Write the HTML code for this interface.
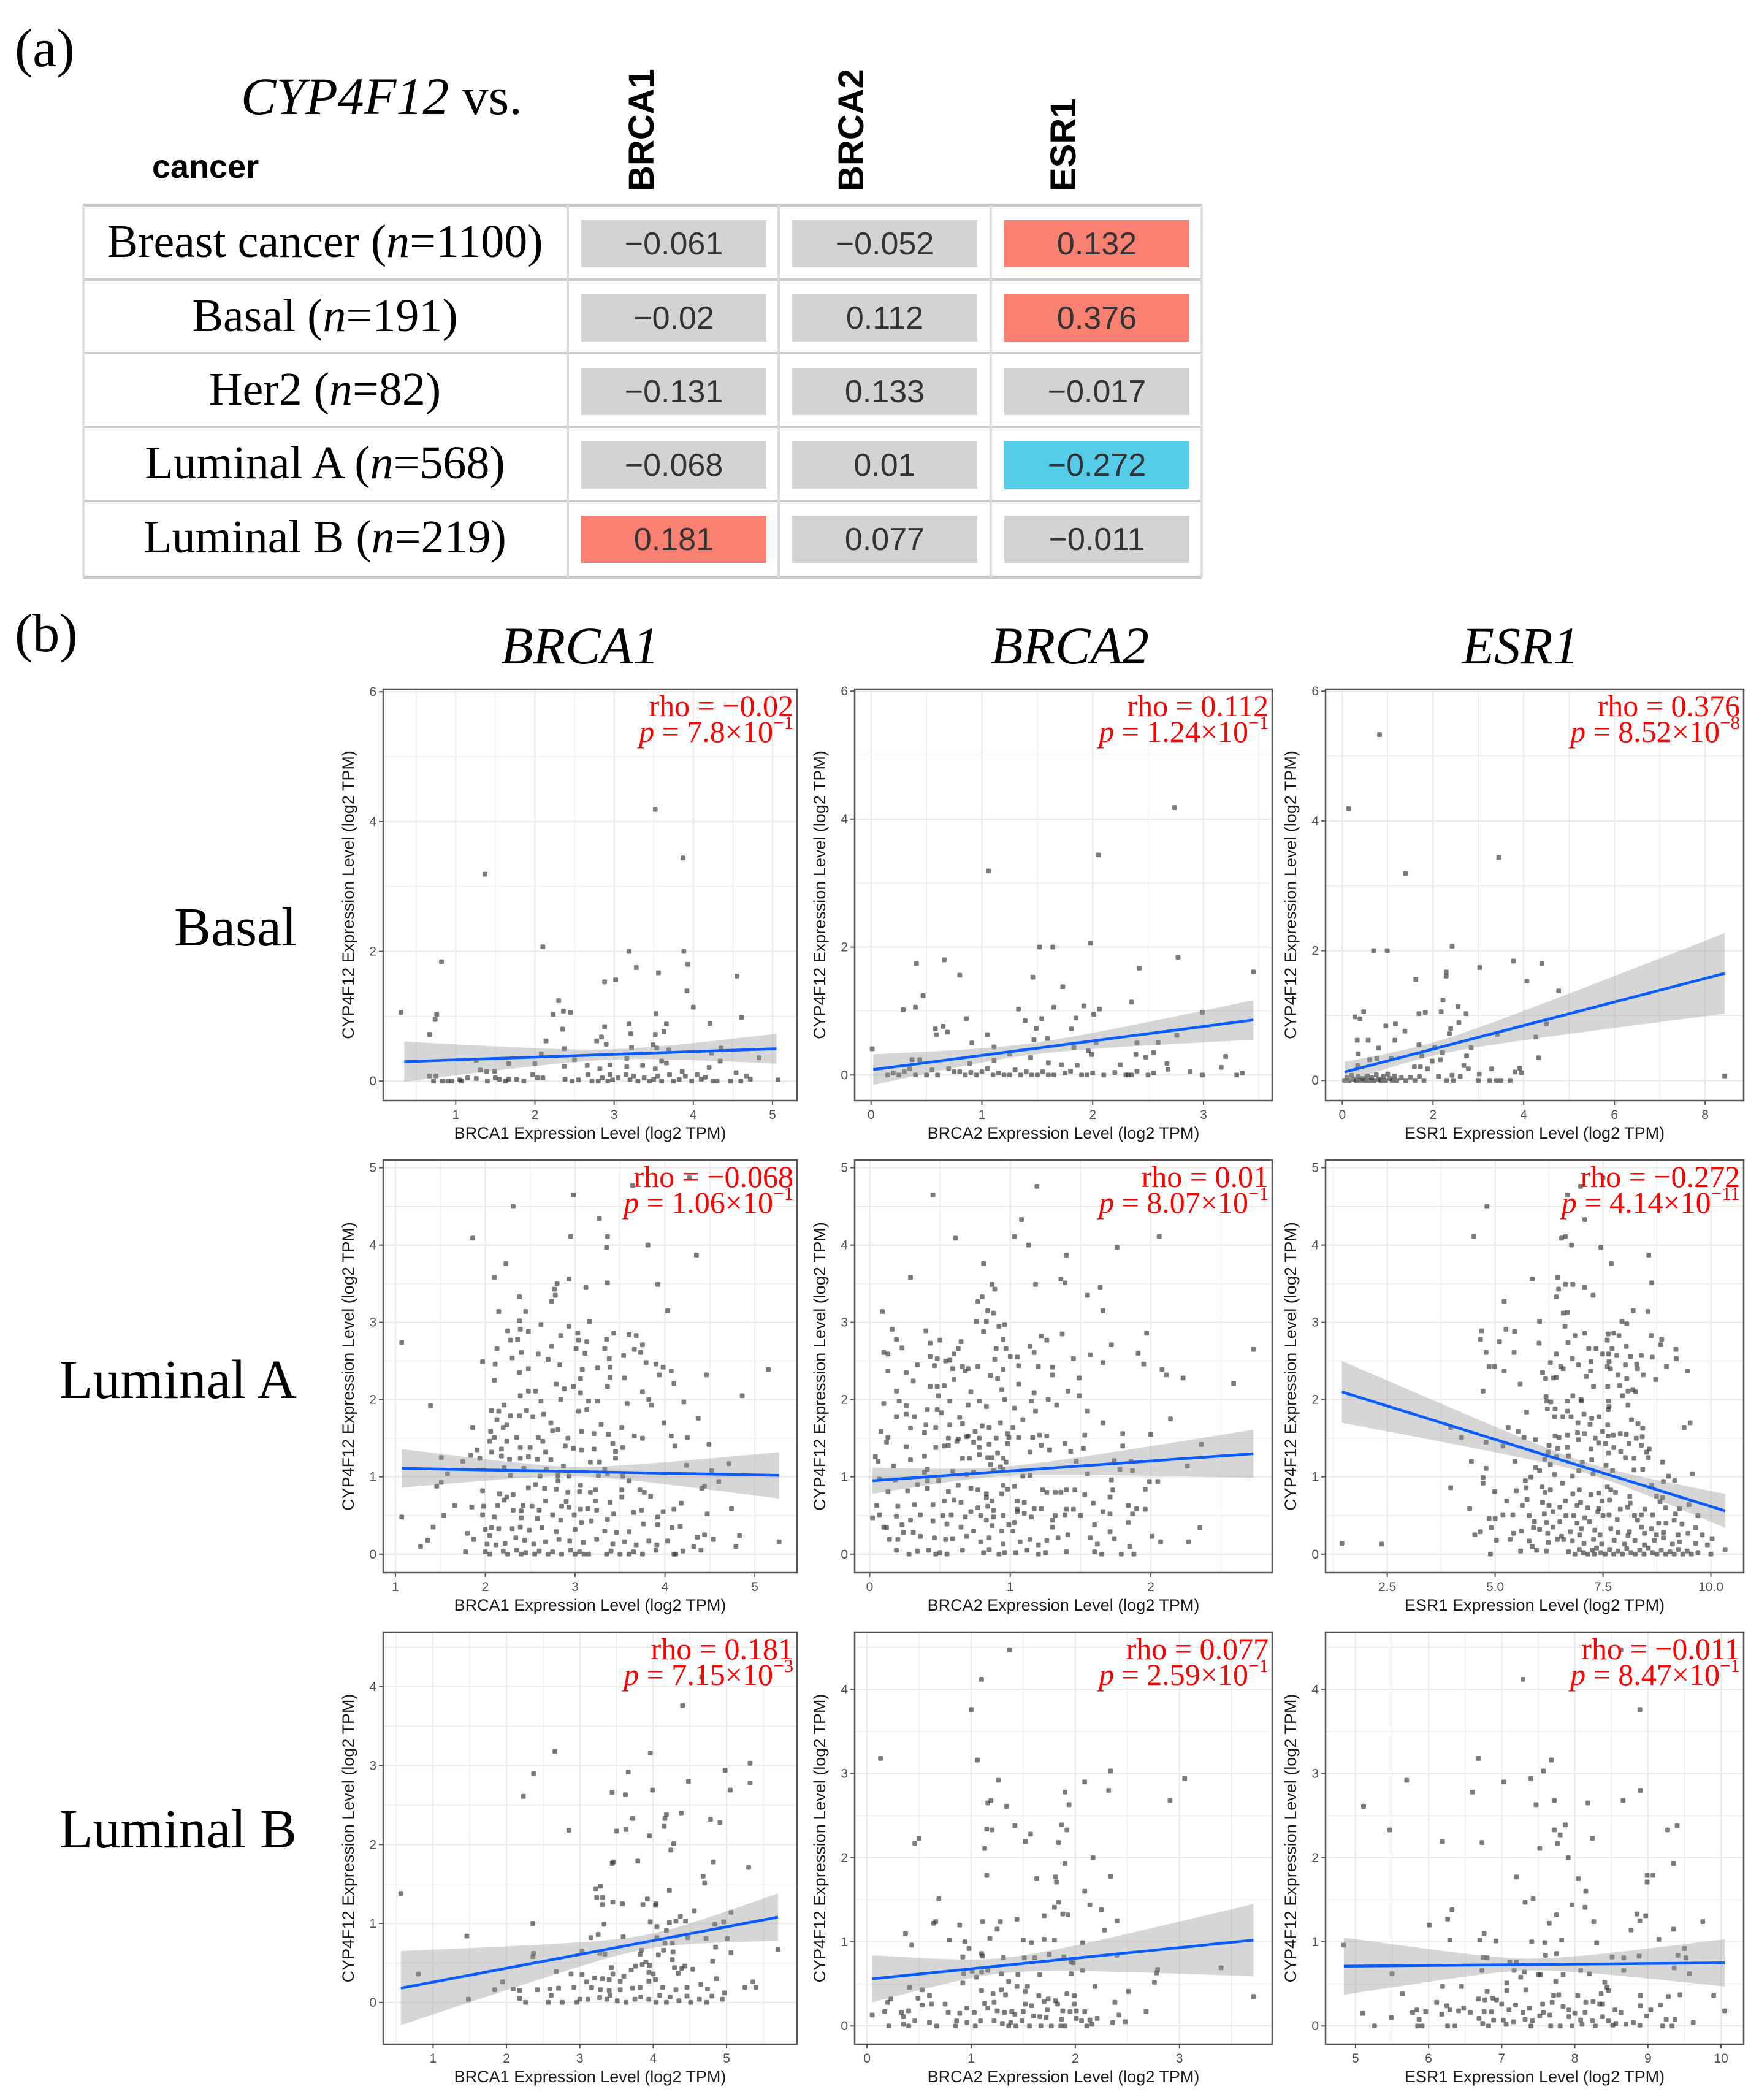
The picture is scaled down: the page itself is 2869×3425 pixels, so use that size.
<!DOCTYPE html>
<html><head><meta charset="utf-8">
<style>
html,body{margin:0;padding:0;background:#fff;}
svg{display:block;}
.serif{font-family:"Liberation Serif",serif;}
.sans{font-family:"Liberation Sans",sans-serif;}
</style></head>
<body>
<svg id="fig" xmlns="http://www.w3.org/2000/svg" width="2869" height="3425" viewBox="0 0 2869 3425">
<rect x="0" y="0" width="2869" height="3425" fill="#fff"/>
<g>
<text class="serif" x="24" y="108" font-size="88">(a)</text>
<text class="serif" x="393" y="186" font-size="86"><tspan font-style="italic">CYP4F12</tspan> vs.</text>
<text class="sans" x="248" y="290" font-size="54" font-weight="bold">cancer</text>
<text class="sans" font-size="58" font-weight="bold" transform="translate(1066,312) rotate(-90)">BRCA1</text>
<text class="sans" font-size="58" font-weight="bold" transform="translate(1408,312) rotate(-90)">BRCA2</text>
<text class="sans" font-size="58" font-weight="bold" transform="translate(1754,312) rotate(-90)">ESR1</text>
<g id="table"></g>
</g>
<text class="serif" x="24" y="1062" font-size="88">(b)</text>
<text class="serif" x="946" y="1082" font-size="86" font-style="italic" text-anchor="middle">BRCA1</text>
<text class="serif" x="1745" y="1082" font-size="86" font-style="italic" text-anchor="middle">BRCA2</text>
<text class="serif" x="2480" y="1082" font-size="86" font-style="italic" text-anchor="middle">ESR1</text>
<text class="serif" x="484" y="1542" font-size="90" text-anchor="end">Basal</text>
<text class="serif" x="484" y="2280" font-size="90" text-anchor="end">Luminal A</text>
<text class="serif" x="484" y="3013" font-size="90" text-anchor="end">Luminal B</text>
<g id="plots"></g>
</svg>
<script>
const tableRows = ["Breast cancer", "Basal", "Her2", "Luminal A", "Luminal B"];
const tableN = ["1100", "191", "82", "568", "219"];
const tableGenes = ["BRCA1", "BRCA2", "ESR1"];
const tableRho = [
  ["\u22120.061", "\u22120.052", "0.132"],
  ["\u22120.02", "0.112", "0.376"],
  ["\u22120.131", "0.133", "\u22120.017"],
  ["\u22120.068", "0.01", "\u22120.272"],
  ["0.181", "0.077", "\u22120.011"]
];
const tableSig = [
  ["n","n","pos"],["n","n","pos"],["n","n","n"],["n","n","neg"],["pos","n","n"]
];

const basalBrca1Pts = [[3.52,4.19],[3.87,3.44],[1.37,3.19],[2.1,2.07],[3.19,2.0],[3.88,2.0],[0.82,1.84],[3.93,1.8],[3.28,1.75],[3.56,1.67],[3.02,1.56],[2.88,1.53],[4.55,1.62],[3.92,1.39],[2.3,1.24],[4.0,1.14],[0.31,1.06],[0.76,1.03],[0.74,0.95],[2.36,1.08],[2.45,1.06],[2.23,1.03],[3.53,1.04],[4.61,0.98],[3.19,0.88],[3.66,0.88],[4.21,0.89],[2.88,0.84],[2.35,0.8],[0.67,0.72],[3.21,0.73],[3.52,0.72],[3.63,0.76],[2.14,0.62],[2.84,0.68],[2.78,0.62],[2.9,0.57],[3.22,0.52],[3.49,0.56],[3.54,0.51],[3.69,0.48],[4.35,0.51],[2.37,0.5],[2.08,0.42],[4.23,0.43],[3.16,0.35],[3.36,0.24],[2.5,0.33],[3.6,0.31],[3.66,0.28],[4.34,0.31],[4.83,0.36],[1.26,0.32],[1.67,0.27],[2.0,0.27],[2.37,0.23],[2.66,0.24],[2.82,0.19],[2.95,0.25],[3.16,0.22],[4.2,0.21],[1.31,0.17],[1.39,0.15],[1.49,0.15],[3.52,0.19],[3.86,0.15],[4.54,0.13],[0.67,0.08],[0.72,0.0],[0.75,0.08],[0.83,0.0],[0.9,0.0],[0.95,0.0],[1.05,0.02],[1.07,0.0],[1.15,0.05],[1.26,0.04],[1.4,0.0],[1.5,0.05],[1.55,0.03],[1.63,0.0],[1.67,0.03],[1.77,0.03],[1.86,0.0],[1.97,0.1],[2.03,0.05],[2.1,0.05],[2.38,0.03],[2.47,0.0],[2.55,0.02],[2.67,0.1],[2.72,0.0],[2.8,0.0],[2.85,0.05],[2.92,0.0],[2.95,0.1],[2.98,0.02],[3.05,0.05],[3.15,0.1],[3.2,0.02],[3.25,0.08],[3.3,0.0],[3.38,0.05],[3.45,0.0],[3.5,0.03],[3.55,0.08],[3.6,0.0],[3.7,0.1],[3.75,0.0],[3.82,0.03],[3.9,0.08],[3.98,0.0],[4.05,0.1],[4.1,0.03],[4.15,0.06],[4.25,0.0],[4.3,0.0],[4.47,0.0],[4.6,0.0],[4.67,0.08],[4.72,0.03],[5.07,0.02]];
const basalBrca2Pts = [[2.74,4.18],[2.05,3.44],[1.06,3.19],[1.98,2.06],[1.52,2.0],[1.64,2.0],[0.66,1.8],[0.41,1.74],[2.77,1.84],[2.42,1.67],[3.45,1.61],[0.8,1.56],[1.46,1.53],[1.73,1.38],[0.47,1.24],[0.29,1.02],[0.4,1.06],[1.33,1.03],[1.65,1.06],[1.92,1.08],[2.06,1.03],[2.35,1.14],[2.01,0.95],[2.99,0.98],[0.86,0.88],[1.39,0.85],[1.54,0.88],[1.85,0.89],[0.58,0.72],[0.65,0.76],[0.59,0.63],[0.69,0.67],[1.05,0.63],[1.49,0.73],[1.81,0.72],[2.76,0.62],[0.91,0.5],[1.47,0.55],[1.59,0.57],[2.4,0.5],[2.59,0.51],[0.01,0.41],[1.11,0.44],[1.83,0.43],[1.96,0.38],[2.03,0.5],[1.25,0.33],[1.99,0.32],[2.39,0.32],[2.55,0.35],[2.48,0.28],[3.2,0.29],[0.37,0.24],[0.44,0.24],[1.11,0.23],[1.44,0.27],[0.89,0.18],[1.6,0.19],[1.72,0.16],[1.86,0.15],[2.67,0.18],[2.25,0.16],[3.16,0.12],[2.68,0.09],[2.88,0.05],[0.15,0.0],[0.2,0.03],[0.25,0.0],[0.3,0.05],[0.35,0.1],[0.4,0.0],[0.5,0.0],[0.55,0.08],[0.6,0.0],[0.7,0.1],[0.75,0.05],[0.8,0.05],[0.85,0.0],[0.9,0.04],[0.95,0.0],[1.0,0.05],[1.05,0.1],[1.1,0.0],[1.15,0.03],[1.2,0.0],[1.25,0.0],[1.3,0.08],[1.35,0.0],[1.4,0.05],[1.45,0.0],[1.5,0.0],[1.55,0.05],[1.6,0.0],[1.65,0.0],[1.75,0.03],[1.8,0.06],[1.9,0.0],[1.95,0.0],[2.0,0.03],[2.1,0.0],[2.2,0.04],[2.3,0.0],[2.32,0.0],[2.35,0.0],[2.4,0.06],[2.5,0.0],[2.55,0.03],[2.99,0.0],[3.3,0.0],[3.35,0.03]];
const basalEsr1Pts = [[0.82,5.33],[0.14,4.19],[3.45,3.44],[1.39,3.19],[2.42,2.07],[0.69,2.0],[0.99,2.0],[3.77,1.84],[4.4,1.8],[3.03,1.74],[2.29,1.67],[2.29,1.61],[1.62,1.56],[4.07,1.53],[4.77,1.38],[2.22,1.24],[2.55,1.14],[0.47,1.06],[0.28,0.98],[0.39,0.95],[1.69,1.03],[1.83,1.05],[2.18,1.06],[2.73,1.03],[0.96,0.84],[1.17,0.87],[1.38,0.76],[2.39,0.8],[2.57,0.89],[2.36,0.72],[4.5,0.87],[3.42,0.71],[4.27,0.67],[0.33,0.62],[0.57,0.62],[1.16,0.62],[0.8,0.5],[1.69,0.55],[2.04,0.51],[2.84,0.51],[0.35,0.41],[2.21,0.43],[1.75,0.38],[2.74,0.38],[4.33,0.35],[0.6,0.32],[0.76,0.34],[1.08,0.34],[2.16,0.32],[1.98,0.3],[0.34,0.23],[1.59,0.21],[1.72,0.21],[2.68,0.23],[1.88,0.18],[2.78,0.18],[3.29,0.18],[3.91,0.19],[3.81,0.13],[3.95,0.12],[8.43,0.07],[2.12,0.06],[2.6,0.06],[2.42,0.08],[3.02,0.1],[0.05,0.0],[0.1,0.05],[0.15,0.0],[0.2,0.08],[0.25,0.02],[0.3,0.0],[0.35,0.06],[0.4,0.0],[0.45,0.03],[0.5,0.0],[0.55,0.07],[0.6,0.0],[0.65,0.04],[0.7,0.0],[0.75,0.09],[0.8,0.02],[0.85,0.0],[0.9,0.06],[0.95,0.0],[1.0,0.1],[1.05,0.03],[1.1,0.0],[1.15,0.07],[1.2,0.0],[1.3,0.04],[1.4,0.0],[1.5,0.05],[1.6,0.0],[1.7,0.06],[1.8,0.0],[2.3,0.0],[2.45,0.0],[3.0,0.0],[3.25,0.0],[3.4,0.0],[3.5,0.0],[3.7,0.0]];
const lumABrca1Pts = [[3.64,4.77],[2.98,4.65],[2.31,4.5],[4.27,4.87],[3.27,4.34],[1.86,4.09],[2.95,4.11],[3.36,4.11],[3.35,3.97],[3.81,4.0],[4.35,3.87],[2.23,3.76],[2.1,3.58],[2.93,3.56],[3.36,3.51],[3.92,3.49],[3.12,3.45],[2.8,3.5],[2.77,3.43],[2.78,3.35],[2.74,3.27],[2.38,3.33],[2.15,3.14],[2.45,3.14],[4.03,3.15],[2.38,3.02],[3.16,3.01],[2.62,2.97],[2.25,2.89],[2.39,2.91],[2.48,2.88],[2.93,2.95],[2.84,2.83],[3.03,2.86],[3.43,2.86],[3.6,2.84],[3.68,2.83],[1.07,2.74],[2.28,2.77],[2.36,2.78],[3.35,2.78],[3.04,2.77],[2.74,2.69],[2.13,2.66],[3.01,2.66],[3.33,2.66],[3.13,2.75],[3.66,2.65],[3.75,2.71],[2.3,2.54],[2.4,2.61],[2.59,2.59],[2.7,2.52],[3.11,2.6],[3.38,2.53],[3.54,2.57],[3.73,2.61],[1.97,2.49],[2.11,2.46],[2.83,2.45],[3.25,2.41],[3.79,2.48],[3.9,2.46],[3.98,2.42],[5.15,2.39],[2.48,2.4],[3.08,2.39],[3.39,2.42],[2.1,2.25],[2.38,2.35],[3.94,2.32],[4.07,2.37],[4.46,2.32],[2.79,2.2],[3.06,2.27],[3.39,2.29],[3.55,2.28],[4.1,2.21],[2.48,2.11],[2.56,2.11],[2.88,2.14],[2.98,2.17],[3.06,2.09],[3.36,2.17],[3.75,2.1],[4.86,2.05],[2.39,2.05],[2.62,1.98],[2.84,2.0],[3.15,1.98],[3.25,1.98],[3.82,2.0],[4.21,1.97],[1.39,1.92],[2.21,1.93],[2.07,1.86],[2.15,1.85],[3.58,1.95],[3.85,1.93],[2.28,1.79],[2.38,1.79],[2.46,1.86],[2.53,1.78],[2.65,1.81],[3.04,1.85],[3.13,1.87],[2.13,1.74],[4.37,1.76],[1.86,1.64],[2.73,1.7],[3.29,1.68],[3.99,1.7],[2.2,1.64],[2.24,1.67],[2.06,1.59],[2.75,1.6],[2.81,1.61],[3.52,1.64],[3.07,1.59],[3.21,1.56],[3.37,1.55],[3.66,1.53],[3.75,1.5],[4.07,1.53],[4.25,1.51],[2.1,1.51],[2.35,1.51],[2.59,1.51],[2.92,1.5],[2.05,1.46],[2.24,1.46],[2.64,1.46],[3.42,1.43],[4.11,1.4],[4.49,1.42],[2.39,1.38],[2.5,1.38],[2.89,1.4],[2.18,1.36],[2.98,1.37],[3.07,1.35],[3.21,1.36],[3.53,1.38],[1.91,1.35],[1.84,1.28],[2.07,1.32],[2.67,1.32],[3.45,1.33],[1.94,1.24],[2.18,1.27],[2.27,1.23],[2.39,1.24],[2.48,1.26],[2.58,1.23],[2.73,1.22],[3.17,1.19],[3.27,1.19],[3.45,1.24],[4.71,1.17],[1.51,1.25],[1.75,1.2],[4.24,1.15],[2.21,1.12],[2.43,1.11],[2.68,1.1],[2.87,1.14],[3.33,1.1],[4.52,1.08],[1.58,1.04],[2.28,1.02],[2.61,1.01],[2.81,1.02],[2.93,1.01],[3.26,1.02],[3.36,1.04],[3.53,1.01],[2.81,0.95],[3.06,0.89],[3.6,0.95],[4.6,0.94],[1.51,0.93],[1.46,0.88],[2.48,0.86],[2.56,0.9],[2.66,0.85],[2.79,0.84],[2.92,0.8],[3.05,0.81],[3.17,0.8],[3.23,0.83],[3.52,0.83],[1.97,0.82],[3.72,0.83],[3.77,0.8],[3.84,0.75],[4.41,0.85],[4.44,0.88],[2.16,0.78],[2.24,0.74],[2.31,0.77],[2.21,0.7],[3.52,0.74],[2.67,0.69],[2.9,0.68],[3.23,0.69],[3.39,0.67],[4.18,0.66],[1.66,0.63],[1.85,0.61],[1.98,0.62],[2.14,0.63],[2.42,0.63],[2.52,0.62],[2.85,0.62],[2.93,0.61],[3.06,0.58],[3.14,0.59],[4.74,0.59],[2.31,0.57],[2.4,0.56],[2.6,0.57],[2.75,0.51],[2.99,0.51],[3.24,0.57],[3.43,0.52],[3.65,0.54],[3.74,0.57],[3.98,0.55],[4.1,0.58],[1.54,0.5],[1.97,0.51],[4.47,0.52],[1.07,0.48],[2.1,0.48],[2.4,0.47],[2.58,0.46],[2.84,0.44],[3.07,0.41],[3.18,0.43],[3.36,0.45],[3.92,0.48],[1.42,0.35],[2.0,0.32],[2.07,0.34],[2.15,0.33],[2.3,0.33],[2.39,0.35],[2.49,0.31],[2.63,0.34],[2.79,0.29],[3.0,0.32],[3.33,0.3],[3.46,0.28],[3.6,0.29],[3.76,0.39],[3.92,0.38],[4.08,0.34],[4.17,0.36],[4.36,0.22],[4.44,0.25],[4.83,0.24],[5.27,0.16],[1.8,0.27],[1.87,0.19],[1.36,0.18],[1.28,0.1],[1.78,0.03],[2.02,0.13],[2.05,0.24],[2.12,0.12],[2.22,0.14],[2.34,0.21],[2.44,0.18],[2.54,0.13],[2.67,0.16],[2.82,0.19],[2.94,0.17],[3.09,0.15],[3.24,0.19],[3.42,0.13],[3.55,0.16],[3.68,0.12],[3.82,0.17],[3.91,0.12],[4.03,0.17],[4.32,0.1],[4.79,0.1],[4.54,0.19],[2.0,0.03],[2.05,0.0],[2.2,0.04],[2.25,0.0],[2.35,0.05],[2.4,0.0],[2.45,0.02],[2.55,0.0],[2.6,0.04],[2.7,0.0],[2.75,0.03],[2.85,0.0],[2.95,0.05],[3.0,0.0],[3.05,0.03],[3.1,0.0],[3.15,0.0],[3.35,0.0],[3.4,0.04],[3.5,0.0],[3.6,0.0],[3.65,0.03],[3.75,0.0],[3.9,0.05],[4.1,0.0],[4.12,0.0],[4.2,0.04],[4.4,0.05]];
const lumABrca2Pts = [[1.19,4.76],[0.45,4.65],[1.08,4.33],[0.61,4.09],[1.03,4.11],[1.13,4.0],[2.06,4.11],[1.76,3.97],[1.4,3.87],[0.81,3.76],[0.29,3.58],[1.18,3.49],[1.36,3.56],[1.39,3.51],[0.87,3.49],[0.89,3.43],[1.64,3.45],[1.55,3.35],[0.8,3.33],[0.77,3.27],[1.66,3.15],[0.09,3.14],[0.84,3.15],[0.88,3.12],[0.76,3.01],[0.83,3.01],[0.92,2.95],[0.96,2.97],[0.81,2.88],[0.16,2.91],[0.4,2.89],[1.37,2.85],[1.97,2.86],[0.65,2.75],[1.22,2.82],[1.26,2.77],[0.19,2.78],[0.43,2.73],[0.5,2.77],[0.95,2.78],[0.23,2.67],[0.63,2.66],[1.14,2.69],[0.9,2.66],[0.97,2.66],[1.72,2.71],[2.73,2.65],[0.1,2.61],[0.13,2.59],[0.43,2.56],[0.48,2.53],[0.54,2.5],[0.57,2.51],[0.6,2.59],[0.89,2.52],[1.0,2.56],[1.05,2.55],[1.17,2.61],[1.45,2.53],[1.57,2.58],[1.91,2.6],[0.34,2.45],[0.46,2.44],[0.66,2.43],[0.7,2.4],[0.77,2.43],[0.95,2.39],[1.06,2.44],[1.2,2.43],[1.3,2.42],[1.66,2.48],[1.95,2.46],[0.13,2.37],[0.26,2.35],[0.59,2.4],[0.68,2.37],[0.86,2.31],[0.91,2.27],[1.3,2.32],[1.49,2.28],[2.08,2.39],[2.11,2.32],[2.23,2.28],[2.59,2.21],[0.31,2.24],[0.6,2.26],[1.06,2.2],[0.19,2.11],[0.43,2.17],[0.48,2.17],[0.53,2.18],[0.72,2.1],[0.94,2.13],[1.17,2.09],[1.41,2.11],[1.49,2.05],[0.49,2.05],[0.1,1.95],[0.21,1.98],[0.57,1.98],[0.78,1.98],[0.96,2.0],[1.15,1.98],[1.27,2.0],[0.26,1.92],[0.7,1.93],[0.83,1.91],[1.03,1.89],[1.33,1.93],[0.19,1.78],[0.26,1.81],[0.32,1.78],[0.41,1.87],[0.48,1.87],[0.51,1.83],[0.64,1.77],[1.18,1.85],[1.55,1.85],[2.14,1.75],[0.93,1.7],[1.09,1.74],[1.66,1.7],[0.08,1.59],[0.29,1.63],[0.4,1.67],[0.47,1.64],[0.57,1.67],[0.66,1.69],[0.75,1.59],[0.8,1.66],[0.85,1.64],[0.98,1.56],[1.02,1.64],[0.39,1.57],[0.13,1.51],[0.56,1.5],[0.63,1.49],[0.7,1.53],[0.78,1.5],[0.9,1.5],[0.99,1.51],[1.06,1.51],[1.16,1.51],[1.21,1.54],[1.26,1.53],[1.53,1.54],[1.8,1.56],[2.0,1.55],[0.12,1.45],[0.26,1.39],[0.47,1.38],[0.53,1.4],[0.56,1.41],[0.74,1.45],[0.62,1.46],[0.69,1.52],[0.78,1.38],[0.85,1.42],[0.98,1.43],[1.22,1.41],[1.39,1.43],[1.52,1.37],[1.8,1.4],[2.36,1.42],[1.14,1.32],[1.28,1.35],[1.43,1.33],[0.04,1.26],[0.06,1.2],[0.29,1.22],[0.39,1.27],[0.41,1.1],[0.66,1.24],[0.71,1.24],[0.78,1.29],[0.84,1.25],[0.86,1.16],[0.87,1.25],[0.91,1.31],[0.95,1.24],[0.97,1.19],[1.47,1.2],[1.74,1.21],[1.86,1.2],[0.17,1.14],[0.39,1.06],[0.59,1.07],[0.69,1.03],[0.74,1.06],[0.88,1.08],[0.93,1.13],[0.95,1.1],[1.09,1.01],[1.14,1.02],[1.55,1.04],[1.78,1.1],[1.87,1.08],[2.26,1.14],[0.07,0.97],[0.18,0.96],[0.34,0.9],[0.41,0.95],[0.49,0.95],[0.63,0.89],[0.95,0.89],[1.03,0.88],[1.72,0.96],[1.99,0.94],[2.05,0.94],[0.13,0.81],[0.27,0.82],[0.41,0.85],[0.56,0.81],[0.72,0.85],[0.77,0.83],[0.83,0.78],[0.94,0.78],[0.98,0.84],[1.23,0.83],[1.26,0.8],[1.32,0.8],[1.36,0.8],[1.4,0.83],[1.46,0.83],[1.53,0.77],[1.73,0.83],[1.71,0.74],[1.96,0.84],[0.83,0.73],[0.87,0.69],[1.05,0.69],[1.1,0.67],[0.65,0.67],[0.53,0.69],[0.05,0.63],[0.2,0.62],[0.32,0.64],[0.45,0.64],[0.6,0.7],[1.59,0.66],[1.84,0.63],[1.9,0.59],[1.96,0.58],[0.77,0.6],[0.84,0.62],[0.88,0.57],[1.05,0.58],[1.17,0.59],[1.22,0.59],[1.4,0.58],[1.45,0.58],[0.02,0.47],[0.07,0.51],[0.19,0.49],[0.36,0.51],[0.52,0.5],[0.58,0.51],[0.68,0.48],[0.72,0.55],[0.79,0.5],[0.88,0.48],[0.95,0.5],[1.05,0.55],[1.1,0.53],[1.15,0.48],[1.32,0.5],[1.39,0.51],[1.5,0.5],[1.66,0.55],[1.71,0.52],[1.87,0.52],[0.1,0.35],[0.12,0.34],[0.23,0.38],[0.29,0.44],[0.45,0.43],[0.55,0.39],[0.65,0.35],[0.83,0.44],[0.87,0.37],[0.99,0.38],[1.03,0.41],[1.3,0.44],[1.3,0.35],[1.6,0.38],[1.84,0.41],[2.35,0.34],[0.14,0.19],[0.2,0.19],[0.24,0.28],[0.31,0.28],[0.36,0.23],[0.46,0.21],[0.54,0.19],[0.59,0.2],[0.69,0.23],[0.74,0.3],[0.79,0.16],[0.85,0.21],[0.94,0.3],[0.95,0.13],[1.02,0.3],[1.07,0.16],[1.14,0.19],[1.2,0.12],[1.26,0.18],[1.34,0.21],[1.41,0.25],[1.57,0.21],[1.62,0.13],[1.71,0.29],[1.74,0.2],[2.01,0.23],[2.07,0.16],[2.27,0.16],[1.85,0.1],[0.19,0.05],[0.28,0.0],[0.34,0.04],[0.42,0.05],[0.47,0.0],[0.5,0.02],[0.55,0.0],[0.66,0.05],[0.81,0.02],[0.85,0.06],[0.92,0.0],[0.96,0.02],[1.04,0.02],[1.12,0.05],[1.2,0.0],[1.25,0.02],[1.4,0.03],[1.6,0.03],[1.65,0.0],[1.79,0.0],[1.88,0.0]];
const lumAEsr1Pts = [[7.5,4.87],[6.98,4.76],[4.81,4.5],[6.68,4.65],[7.08,4.33],[4.51,4.11],[6.54,4.09],[6.63,4.11],[6.77,4.0],[7.45,3.97],[8.56,3.87],[7.69,3.76],[5.86,3.56],[6.45,3.58],[6.63,3.49],[6.8,3.49],[7.07,3.45],[8.63,3.51],[6.47,3.43],[6.42,3.33],[7.27,3.35],[5.21,3.27],[8.2,3.15],[8.54,3.14],[6.58,3.12],[6.67,3.13],[6.03,3.01],[7.94,3.01],[8.05,2.98],[6.62,2.95],[4.69,2.89],[5.25,2.91],[5.45,2.88],[7.08,2.86],[7.62,2.85],[7.75,2.86],[7.87,2.83],[6.85,2.83],[8.62,2.83],[4.66,2.78],[5.1,2.75],[7.6,2.77],[8.86,2.78],[6.02,2.73],[6.69,2.74],[7.17,2.66],[7.34,2.66],[7.71,2.66],[8.04,2.69],[8.84,2.71],[9.19,2.65],[4.79,2.61],[5.44,2.61],[6.42,2.59],[7.49,2.59],[7.63,2.59],[7.82,2.57],[8.14,2.56],[8.39,2.57],[8.64,2.55],[9.2,2.53],[6.79,2.53],[6.28,2.48],[6.93,2.45],[7.22,2.49],[7.64,2.49],[8.02,2.45],[8.28,2.46],[4.86,2.43],[4.99,2.43],[6.52,2.43],[6.58,2.4],[7.6,2.43],[7.67,2.4],[8.3,2.4],[8.97,2.43],[5.21,2.37],[7.21,2.37],[9.46,2.37],[6.1,2.35],[7.11,2.3],[8.43,2.32],[7.85,2.32],[6.17,2.27],[6.35,2.28],[6.42,2.29],[8.05,2.27],[8.72,2.26],[5.58,2.2],[7.28,2.17],[7.61,2.17],[7.89,2.18],[8.19,2.13],[8.08,2.11],[8.26,2.1],[4.72,2.11],[7.95,2.05],[6.18,2.04],[6.8,2.05],[6.99,2.0],[6.2,1.98],[6.29,1.97],[6.67,1.98],[7.0,1.98],[7.63,1.98],[8.08,1.93],[5.73,1.84],[6.21,1.88],[6.39,1.88],[6.68,1.85],[7.64,1.91],[7.62,1.87],[6.38,1.78],[6.57,1.78],[6.76,1.78],[7.06,1.81],[7.24,1.76],[7.41,1.78],[8.16,1.74],[6.92,1.7],[7.2,1.68],[7.61,1.67],[8.31,1.69],[9.38,1.64],[9.52,1.7],[3.97,1.64],[5.3,1.64],[5.53,1.59],[7.49,1.59],[8.42,1.63],[6.91,1.57],[7.07,1.56],[7.62,1.53],[7.74,1.54],[7.9,1.56],[8.04,1.55],[8.41,1.52],[4.22,1.51],[5.67,1.51],[5.93,1.48],[6.39,1.53],[6.48,1.51],[6.68,1.54],[6.93,1.48],[7.32,1.5],[4.79,1.45],[7.4,1.44],[7.56,1.43],[8.1,1.43],[8.27,1.5],[6.25,1.41],[5.18,1.4],[7.75,1.38],[8.39,1.41],[8.57,1.36],[6.45,1.37],[6.67,1.38],[7.22,1.36],[7.63,1.31],[7.91,1.33],[8.51,1.32],[6.23,1.32],[6.7,1.27],[8.02,1.25],[8.22,1.24],[8.55,1.25],[4.45,1.2],[5.46,1.2],[6.15,1.23],[6.42,1.26],[7.02,1.19],[7.24,1.22],[8.88,1.19],[5.94,1.12],[6.28,1.16],[7.57,1.15],[8.42,1.1],[8.22,1.09],[4.79,1.11],[6.03,1.08],[6.94,1.08],[7.72,1.08],[9.57,1.04],[6.38,1.03],[7.27,1.04],[4.72,0.99],[5.83,1.0],[6.79,1.01],[9.02,1.01],[9.16,0.95],[5.7,0.95],[6.56,0.92],[8.9,0.94],[4.72,0.92],[3.97,0.86],[6.09,0.87],[7.6,0.87],[8.63,0.89],[4.99,0.81],[5.49,0.82],[5.72,0.86],[6.16,0.8],[6.28,0.83],[6.8,0.78],[6.95,0.83],[7.22,0.77],[7.4,0.79],[7.68,0.83],[7.79,0.8],[8.12,0.75],[8.74,0.75],[8.88,0.73],[5.27,0.69],[5.74,0.71],[6.1,0.67],[6.63,0.69],[6.98,0.67],[7.48,0.69],[7.65,0.7],[8.13,0.66],[8.82,0.68],[5.63,0.63],[6.25,0.63],[6.5,0.61],[6.9,0.63],[7.15,0.6],[7.4,0.59],[7.9,0.58],[8.07,0.61],[8.47,0.58],[8.95,0.6],[9.27,0.59],[9.49,0.64],[4.41,0.59],[5.18,0.51],[5.41,0.51],[5.79,0.5],[6.14,0.52],[6.34,0.55],[6.64,0.5],[6.82,0.5],[7.08,0.47],[7.38,0.55],[7.5,0.5],[7.64,0.51],[7.83,0.45],[8.23,0.5],[8.39,0.51],[8.65,0.51],[9.18,0.52],[9.7,0.5],[4.86,0.46],[5.0,0.46],[5.91,0.42],[6.19,0.41],[6.5,0.42],[6.9,0.4],[7.19,0.42],[8.3,0.44],[8.79,0.4],[8.96,0.4],[9.15,0.44],[4.91,0.34],[5.89,0.34],[6.03,0.32],[6.34,0.35],[6.74,0.29],[7.0,0.33],[7.31,0.31],[7.68,0.33],[8.11,0.29],[8.39,0.35],[8.62,0.33],[8.9,0.28],[9.33,0.39],[9.65,0.34],[4.53,0.25],[4.66,0.29],[5.43,0.27],[5.61,0.3],[6.22,0.27],[6.54,0.23],[6.96,0.25],[7.43,0.25],[7.85,0.28],[8.08,0.24],[8.46,0.27],[8.74,0.25],[9.24,0.25],[9.47,0.27],[9.8,0.25],[1.45,0.14],[2.37,0.13],[5.03,0.18],[5.35,0.19],[5.79,0.17],[6.23,0.15],[6.44,0.19],[6.59,0.19],[6.79,0.17],[7.06,0.14],[7.28,0.19],[7.47,0.13],[7.76,0.18],[8.0,0.13],[8.24,0.18],[8.46,0.12],[8.69,0.18],[8.9,0.21],[9.11,0.13],[9.28,0.16],[9.65,0.14],[9.92,0.12],[10.03,0.2],[10.33,0.06],[5.86,0.1],[5.96,0.05],[6.19,0.04],[5.59,0.04],[4.89,0.0],[6.7,0.03],[6.85,0.0],[6.95,0.06],[7.05,0.02],[7.15,0.0],[7.25,0.05],[7.3,0.0],[7.35,0.08],[7.45,0.02],[7.55,0.0],[7.65,0.06],[7.75,0.0],[7.85,0.04],[7.95,0.0],[8.05,0.07],[8.15,0.02],[8.25,0.0],[8.35,0.05],[8.45,0.0],[8.55,0.08],[8.65,0.02],[8.75,0.0],[8.85,0.05],[8.95,0.0],[9.05,0.03],[9.15,0.0],[9.25,0.06],[9.35,0.0],[9.45,0.04],[9.55,0.0],[9.7,0.02],[10.0,0.0]];
const lumBBrca1Pts = [[4.4,3.76],[4.66,4.12],[2.66,3.18],[3.96,3.16],[5.32,3.03],[2.37,2.9],[3.66,2.92],[4.98,2.94],[4.48,2.8],[5.32,2.78],[2.23,2.61],[3.44,2.66],[3.62,2.63],[3.99,2.69],[5.05,2.69],[4.38,2.4],[4.18,2.38],[4.16,2.33],[3.72,2.33],[4.78,2.32],[4.91,2.28],[4.15,2.23],[2.85,2.18],[3.5,2.17],[3.63,2.19],[3.95,2.11],[4.28,2.01],[4.24,1.93],[3.44,1.76],[3.46,1.78],[3.79,1.79],[4.82,1.78],[5.3,1.71],[4.68,1.6],[4.7,1.51],[3.22,1.44],[3.28,1.47],[0.56,1.38],[4.22,1.42],[3.23,1.33],[3.31,1.33],[3.92,1.31],[3.31,1.24],[3.45,1.27],[3.58,1.25],[3.86,1.24],[4.03,1.23],[4.04,1.25],[4.56,1.16],[5.06,1.14],[4.37,1.09],[2.36,1.0],[3.96,1.02],[4.22,1.01],[4.31,1.03],[4.44,1.03],[4.84,0.99],[4.96,1.02],[3.33,0.99],[4.05,0.96],[4.18,0.91],[1.46,0.84],[3.15,0.82],[3.25,0.86],[3.59,0.83],[4.05,0.82],[4.47,0.82],[4.72,0.81],[5.01,0.81],[4.16,0.75],[4.26,0.75],[5.7,0.67],[3.03,0.65],[2.37,0.62],[2.36,0.58],[3.27,0.62],[3.34,0.61],[3.84,0.66],[3.82,0.61],[4.14,0.66],[4.27,0.64],[4.07,0.6],[4.85,0.7],[5.06,0.63],[4.26,0.54],[4.81,0.52],[3.43,0.44],[3.7,0.41],[3.76,0.46],[3.85,0.48],[3.9,0.51],[3.95,0.47],[4.29,0.44],[4.39,0.43],[4.43,0.46],[4.54,0.42],[0.8,0.36],[2.68,0.39],[2.88,0.36],[3.03,0.35],[3.45,0.36],[3.6,0.33],[3.94,0.38],[4.0,0.36],[4.34,0.37],[3.2,0.31],[3.31,0.3],[3.09,0.26],[3.4,0.29],[3.55,0.27],[3.94,0.27],[4.03,0.29],[4.86,0.3],[1.95,0.26],[5.36,0.26],[1.84,0.16],[2.09,0.17],[2.18,0.15],[2.42,0.16],[2.59,0.17],[2.71,0.18],[2.92,0.19],[3.16,0.19],[3.28,0.16],[3.4,0.15],[3.55,0.16],[3.72,0.18],[3.82,0.19],[4.13,0.19],[4.31,0.16],[4.46,0.19],[4.65,0.23],[4.74,0.17],[5.25,0.19],[5.4,0.19],[1.48,0.04],[2.18,0.05],[2.26,0.0],[2.57,0.0],[2.61,0.09],[2.76,0.0],[2.96,0.0],[3.0,0.04],[3.11,0.04],[3.27,0.06],[3.37,0.04],[3.41,0.09],[3.51,0.02],[3.63,0.0],[3.75,0.04],[3.83,0.07],[3.94,0.04],[4.04,0.0],[4.09,0.09],[4.18,0.0],[4.23,0.07],[4.35,0.02],[4.46,0.08],[4.51,0.0],[4.63,0.04],[4.73,0.0],[4.8,0.08],[4.94,0.04],[4.97,0.12]];
const lumBBrca2Pts = [[1.37,4.47],[1.1,4.12],[1.0,3.76],[0.13,3.18],[1.06,3.16],[2.34,3.03],[1.26,2.92],[2.09,2.9],[3.05,2.94],[2.32,2.8],[1.9,2.78],[2.91,2.68],[1.16,2.65],[1.19,2.68],[1.34,2.61],[1.94,2.63],[1.42,2.38],[1.15,2.34],[1.2,2.33],[1.87,2.39],[1.92,2.33],[1.57,2.28],[0.5,2.23],[0.46,2.17],[1.52,2.19],[1.84,2.18],[1.13,2.11],[2.17,2.0],[1.9,1.93],[1.15,1.79],[1.63,1.75],[1.81,1.77],[1.82,1.71],[2.34,1.78],[2.09,1.6],[0.69,1.51],[1.84,1.47],[1.8,1.41],[2.14,1.44],[2.25,1.38],[1.88,1.33],[1.93,1.32],[1.7,1.31],[0.64,1.22],[0.66,1.24],[0.89,1.2],[1.11,1.24],[1.28,1.24],[1.44,1.27],[2.4,1.25],[1.25,1.15],[2.28,1.14],[0.37,1.1],[0.43,0.96],[0.79,1.02],[0.94,1.0],[1.18,1.04],[1.5,1.02],[1.58,0.99],[1.7,1.03],[1.8,1.02],[2.07,0.99],[0.98,0.92],[1.1,0.86],[0.92,0.82],[1.11,0.83],[1.31,0.81],[1.51,0.81],[1.61,0.81],[1.75,0.85],[1.89,0.82],[2.4,0.84],[1.96,0.76],[1.98,0.75],[2.79,0.67],[3.4,0.69],[0.93,0.62],[1.01,0.65],[1.1,0.64],[1.16,0.66],[1.29,0.62],[1.45,0.61],[1.66,0.61],[1.96,0.62],[2.07,0.66],[2.78,0.63],[1.05,0.58],[0.92,0.51],[1.36,0.53],[2.76,0.52],[0.41,0.46],[0.53,0.43],[1.1,0.42],[1.29,0.43],[1.44,0.47],[1.54,0.47],[1.52,0.41],[2.19,0.47],[2.51,0.41],[0.6,0.36],[1.21,0.38],[1.33,0.37],[1.65,0.36],[1.92,0.38],[1.99,0.36],[3.71,0.35],[0.23,0.32],[0.49,0.33],[0.2,0.28],[0.53,0.25],[0.62,0.26],[0.75,0.26],[1.13,0.27],[1.22,0.28],[1.52,0.26],[1.58,0.24],[1.7,0.29],[1.74,0.32],[1.81,0.3],[1.83,0.26],[1.99,0.26],[2.38,0.28],[0.17,0.17],[0.33,0.16],[0.4,0.18],[0.78,0.16],[0.89,0.15],[0.96,0.21],[1.03,0.16],[1.16,0.21],[1.25,0.18],[1.32,0.16],[1.39,0.17],[1.42,0.14],[1.5,0.17],[1.6,0.12],[1.73,0.19],[1.88,0.18],[1.95,0.17],[2.01,0.18],[2.09,0.17],[2.42,0.13],[2.68,0.17],[0.05,0.13],[0.35,0.11],[0.46,0.06],[0.6,0.04],[0.86,0.06],[0.96,0.04],[1.09,0.06],[1.22,0.06],[1.38,0.04],[1.49,0.06],[1.66,0.11],[1.72,0.1],[1.87,0.08],[2.01,0.09],[2.06,0.06],[2.14,0.07],[2.21,0.09],[2.36,0.04],[2.48,0.05],[0.21,0.0],[0.35,0.02],[0.4,0.0],[0.67,0.0],[0.85,0.0],[1.04,0.0],[1.3,0.03],[1.36,0.0],[1.43,0.0],[1.56,0.0],[1.67,0.0],[1.77,0.0],[1.86,0.0],[1.9,0.0],[2.11,0.0],[2.16,0.02]];
const lumBEsr1Pts = [[8.63,4.47],[7.29,4.12],[8.89,3.76],[6.68,3.18],[7.68,3.16],[7.57,3.03],[5.7,2.92],[7.03,2.9],[7.4,2.94],[6.6,2.78],[8.9,2.8],[5.11,2.61],[7.47,2.63],[7.72,2.68],[8.18,2.65],[8.66,2.68],[5.47,2.33],[7.87,2.39],[9.27,2.33],[9.4,2.38],[7.72,2.33],[7.8,2.27],[8.24,2.23],[6.19,2.19],[6.73,2.18],[7.76,2.17],[7.52,2.11],[7.91,2.0],[9.35,1.93],[7.2,1.77],[8.05,1.75],[8.99,1.79],[9.07,1.79],[8.99,1.71],[8.15,1.6],[7.32,1.47],[7.43,1.51],[7.96,1.44],[8.14,1.41],[6.32,1.38],[6.26,1.27],[7.75,1.32],[8.85,1.33],[8.97,1.31],[6.01,1.2],[7.65,1.22],[8.26,1.24],[8.89,1.25],[9.75,1.24],[8.77,1.14],[9.35,1.15],[6.29,1.02],[6.7,1.02],[6.76,1.1],[6.92,1.01],[7.41,1.0],[7.59,0.99],[7.82,1.02],[8.3,0.99],[9.15,1.03],[4.84,0.96],[7.75,0.86],[7.6,0.84],[9.5,0.92],[9.41,0.84],[6.75,0.81],[6.8,0.81],[7.11,0.76],[7.2,0.76],[8.51,0.82],[8.67,0.81],[8.88,0.83],[9.52,0.81],[9.36,0.69],[6.73,0.66],[7.17,0.66],[7.31,0.64],[8.08,0.66],[8.67,0.66],[5.5,0.62],[7.5,0.61],[7.53,0.61],[7.84,0.61],[8.2,0.62],[9.57,0.62],[7.26,0.58],[7.07,0.51],[7.74,0.53],[8.41,0.52],[6.19,0.47],[6.45,0.47],[8.44,0.46],[7.07,0.42],[7.33,0.43],[8.46,0.42],[5.64,0.38],[6.8,0.41],[8.36,0.38],[7.71,0.36],[7.78,0.37],[8.04,0.36],[8.9,0.36],[9.28,0.35],[9.44,0.37],[9.9,0.36],[6.68,0.32],[6.77,0.31],[6.88,0.33],[6.93,0.31],[6.11,0.28],[6.25,0.24],[7.0,0.26],[7.19,0.25],[7.56,0.26],[7.69,0.28],[8.15,0.28],[8.25,0.29],[8.34,0.26],[8.38,0.26],[8.9,0.24],[9.17,0.25],[5.1,0.15],[5.78,0.16],[5.84,0.19],[5.96,0.17],[6.29,0.19],[6.41,0.18],[6.48,0.21],[6.57,0.16],[6.76,0.17],[6.86,0.17],[7.1,0.19],[7.29,0.16],[7.38,0.21],[7.57,0.16],[7.84,0.23],[7.92,0.19],[8.0,0.15],[8.14,0.16],[8.55,0.19],[8.63,0.16],[9.04,0.19],[10.05,0.18],[5.49,0.1],[5.87,0.08],[6.18,0.14],[6.69,0.09],[6.89,0.07],[7.02,0.07],[7.16,0.05],[7.32,0.08],[7.42,0.06],[7.52,0.12],[7.66,0.13],[7.92,0.11],[8.08,0.07],[8.24,0.06],[8.38,0.11],[8.46,0.06],[8.56,0.03],[8.8,0.04],[8.98,0.12],[9.25,0.08],[9.37,0.08],[9.62,0.04],[5.26,0.0],[5.85,0.0],[5.91,0.0],[6.26,0.0],[6.36,0.0],[6.74,0.03],[6.82,0.0],[7.06,0.02],[7.4,0.0],[7.67,0.0],[7.8,0.0],[7.96,0.0],[8.1,0.02],[8.28,0.0],[8.52,0.01],[8.7,0.02],[8.89,0.01],[9.2,0.0],[9.33,0.0]];

const fitXs = [[0.35,3.0,5.05],[0.02,1.4,3.45],[0.05,1.8,8.43],[1.07,3.0,5.27],[0.02,0.9,2.73],[1.45,7.2,10.33],[0.56,3.9,5.7],[0.05,1.3,3.71],[4.84,7.4,10.05]];
const fitYs = [[0.3,0.5],[0.085,0.86],[0.13,1.65],[1.11,1.02],[0.95,1.3],[2.1,0.56],[0.18,1.08],[0.56,1.02],[0.71,0.75]];
const bandHalf = [[0.31,0.08,0.23],[0.24,0.09,0.31],[0.16,0.1,0.62],[0.25,0.06,0.3],[0.17,0.06,0.31],[0.4,0.07,0.22],[0.47,0.09,0.3],[0.28,0.09,0.43],[0.34,0.07,0.28]];

const rhoLabels = ["\u22120.02","0.112","0.376","\u22120.068","0.01","\u22120.272","0.181","0.077","\u22120.011"];
const pMant = ["7.8","1.24","8.52","1.06","8.07","4.14","7.15","2.59","8.47"];
const pExp = ["\u22121","\u22121","\u22128","\u22121","\u22121","\u221211","\u22123","\u22121","\u22121"];

const xDomains = [[0.084,5.31],[-0.148,3.62],[-0.37,8.85],[0.864,5.47],[-0.107,2.864],[1.07,10.76],[0.32,5.96],[-0.118,3.89],[4.59,10.31]];
const yDomains = [[-0.30,6.04],[-0.40,6.03],[-0.31,6.03],[-0.24,5.1],[-0.24,5.1],[-0.24,5.1],[-0.53,4.69],[-0.217,4.68],[-0.217,4.68]];
const xTicks = [[1,2,3,4,5],[0,1,2,3],[0,2,4,6,8],[1,2,3,4,5],[0,1,2],[2.5,5,7.5,10],[1,2,3,4,5],[0,1,2,3],[5,6,7,8,9,10]];
const xTickLabels = [["1","2","3","4","5"],["0","1","2","3"],["0","2","4","6","8"],["1","2","3","4","5"],["0","1","2"],["2.5","5.0","7.5","10.0"],["1","2","3","4","5"],["0","1","2","3"],["5","6","7","8","9","10"]];
const xMinorStep = [0.5,0.5,1,0.5,0.5,1.25,0.5,0.5,0.5];
const yTicks = [[0,2,4,6],[0,2,4,6],[0,2,4,6],[0,1,2,3,4,5],[0,1,2,3,4,5],[0,1,2,3,4,5],[0,1,2,3,4],[0,1,2,3,4],[0,1,2,3,4]];
const yMinorStep = [1,1,1,0.5,0.5,0.5,0.5,0.5,0.5];
const geneNames = ["BRCA1","BRCA2","ESR1"];
const subtypeNames = ["basal","luminal-a","luminal-b"];
const allPts = [basalBrca1Pts,basalBrca2Pts,basalEsr1Pts,lumABrca1Pts,lumABrca2Pts,lumAEsr1Pts,lumBBrca1Pts,lumBBrca2Pts,lumBEsr1Pts];

const NS = "http://www.w3.org/2000/svg";
function mk(tag, attrs, parent){
  const e = document.createElementNS(NS, tag);
  for (const k in attrs) e.setAttribute(k, attrs[k]);
  if (parent) parent.appendChild(e);
  return e;
}

(function(){
  const g = document.getElementById('table');
  const rowY = [335,456,576,696,817,942];
  const colX = [136,926,1270,1616,1960];
  const cellX = [948,1292,1638];
  const cellW = 302;
  const colors = {n:"#d3d3d3", pos:"#fa8072", neg:"#56cde8"};
  for (let r=0;r<tableRows.length;r++){
    const y0 = rowY[r];
    const lab = mk('text',{x:530,y:y0+84,'font-size':76,'text-anchor':'middle','class':'serif'},g);
    
    
    lab.appendChild(document.createTextNode(tableRows[r]+" ("));
    const it = mk('tspan',{'font-style':'italic'},lab); it.textContent='n';
    lab.appendChild(document.createTextNode("="+tableN[r]+")"));
    for (let c=0;c<3;c++){
      const cell = mk('rect',{x:cellX[c],y:y0+24,width:cellW,height:77,fill:colors[tableSig[r][c]]},g);
      
      
      const t = mk('text',{x:cellX[c]+cellW/2,y:y0+80,'font-size':52,'text-anchor':'middle',fill:'#333','class':'sans'},g);
      
      
      t.textContent = tableRho[r][c];
    }
  }
  for (let i=0;i<rowY.length;i++){
    const ln = mk('line',{x1:136,x2:1960,y1:rowY[i],y2:rowY[i],stroke:'#c8c8c8','stroke-width':(i==0||i==rowY.length-1)?6:4},g);
    
    
  }
  for (let i=0;i<colX.length;i++){
    const ln = mk('line',{x1:colX[i],x2:colX[i],y1:335,y2:942,stroke:'#dcdcdc','stroke-width':4},g);
    
    
  }
})();

(function(){
  const root = document.getElementById('plots');
  const colL = [625,1394,2162], colR = [1300,2075,2844];
  const rowT = [1124,1892,2662], rowB = [1795,2565,3334];
  for (let i=0;i<9;i++){
    const r = Math.floor(i/3), c = i%3;
    const L=colL[c], R=colR[c], T=rowT[r], B=rowB[r];
    const xd = xDomains[i], yd = yDomains[i];
    const sx = v => L + (v-xd[0])/(xd[1]-xd[0])*(R-L);
    const sy = v => B - (v-yd[0])/(yd[1]-yd[0])*(B-T);
    const g = mk('g',{},root);
    
    
    const clipId = 'clip'+i;
    const cp = mk('clipPath',{id:clipId},g);
    mk('rect',{x:L,y:T,width:R-L,height:B-T},cp);
    const bg = mk('rect',{x:L,y:T,width:R-L,height:B-T,fill:'#fff'},g);
    
    
    const grid = mk('g',{'clip-path':'url(#'+clipId+')'},g);
    
    
    const xs = Math.ceil(xd[0]/xMinorStep[i])*xMinorStep[i];
    for (let v=xs; v<=xd[1]; v+=xMinorStep[i]){
      const major = xTicks[i].some(t=>Math.abs(t-v)<1e-6);
      mk('line',{x1:sx(v),x2:sx(v),y1:T,y2:B,stroke:'#ebebeb','stroke-width':major?2.4:1.3},grid);
    }
    const ys = Math.ceil(yd[0]/yMinorStep[i])*yMinorStep[i];
    for (let v=ys; v<=yd[1]; v+=yMinorStep[i]){
      const major = yTicks[i].some(t=>Math.abs(t-v)<1e-6);
      mk('line',{x1:L,x2:R,y1:sy(v),y2:sy(v),stroke:'#ebebeb','stroke-width':major?2.4:1.3},grid);
    }
    const pg = mk('g',{'clip-path':'url(#'+clipId+')'},g);
    
    
    for (const p of allPts[i]){
      const d = mk('rect',{x:sx(p[0])-3.9,y:sy(p[1])-3.9,width:7.8,height:7.8,rx:1.8,fill:'#2a2a2a','fill-opacity':0.62},pg);
      
      
    }
    const fx = fitXs[i], fy = fitYs[i], bh = bandHalf[i];
    const lineY = x => fy[0] + (fy[1]-fy[0])*(x-fx[0])/(fx[2]-fx[0]);
    const half = x => {
      const e = x<fx[1]?0:2;
      const k = (bh[e]*bh[e]-bh[1]*bh[1])/Math.pow(fx[e]-fx[1],2);
      return Math.sqrt(bh[1]*bh[1]+k*Math.pow(x-fx[1],2));
    };
    const up=[], lo=[];
    const N=40;
    for (let j=0;j<=N;j++){
      const x = fx[0]+(fx[2]-fx[0])*j/N;
      up.push(sx(x).toFixed(1)+','+sy(lineY(x)+half(x)).toFixed(1));
      lo.push(sx(x).toFixed(1)+','+sy(lineY(x)-half(x)).toFixed(1));
    }
    const band = mk('polygon',{points:up.concat(lo.reverse()).join(' '),fill:'#999','fill-opacity':0.4,'clip-path':'url(#'+clipId+')'},g);
    
    
    const ln = mk('line',{x1:sx(fx[0]),y1:sy(fy[0]),x2:sx(fx[2]),y2:sy(fy[1]),stroke:'#0a5cff','stroke-width':4.5},g);
    
    
    const fr = mk('rect',{x:L,y:T,width:R-L,height:B-T,fill:'none',stroke:'#555','stroke-width':2.5},g);
    
    
    xTicks[i].forEach((v,k)=>{
      mk('line',{x1:sx(v),x2:sx(v),y1:B,y2:B+7,stroke:'#555','stroke-width':2},g);
      const t = mk('text',{x:sx(v),y:B+30,'font-size':21,'text-anchor':'middle',fill:'#4d4d4d','class':'sans'},g);
      
      
      t.textContent = xTickLabels[i][k];
    });
    yTicks[i].forEach(v=>{
      mk('line',{x1:L-7,x2:L,y1:sy(v),y2:sy(v),stroke:'#555','stroke-width':2},g);
      const t = mk('text',{x:L-11,y:sy(v)+7,'font-size':21,'text-anchor':'end',fill:'#4d4d4d','class':'sans'},g);
      
      
      t.textContent = String(v);
    });
    const xt = mk('text',{x:(L+R)/2,y:B+62,'font-size':27,'text-anchor':'middle',fill:'#1a1a1a','class':'sans'},g);
    
    
    xt.textContent = geneNames[c]+' Expression Level (log2 TPM)';
    const ytx = L-48, yty = (T+B)/2;
    const yt = mk('text',{x:ytx,y:yty,'font-size':27,'text-anchor':'middle',fill:'#1a1a1a','class':'sans',transform:'rotate(-90 '+ytx+' '+yty+')'},g);
    
    
    yt.textContent = 'CYP4F12 Expression Level (log2 TPM)';
    const s1 = mk('text',{x:R-6,y:T+44,'font-size':50,'text-anchor':'end',fill:'#ff0000','class':'serif'},g);
    
    
    s1.textContent = 'rho = '+rhoLabels[i];
    const s2 = mk('text',{x:R-6,y:T+86,'font-size':50,'text-anchor':'end',fill:'#ff0000','class':'serif'},g);
    
    
    const pi = mk('tspan',{'font-style':'italic'},s2); pi.textContent='p';
    s2.appendChild(document.createTextNode(' = '+pMant[i]+'\u00d710'));
    const sup = mk('tspan',{'font-size':31,dy:-21},s2); sup.textContent = pExp[i];
  }
})();
</script>
</body></html>
